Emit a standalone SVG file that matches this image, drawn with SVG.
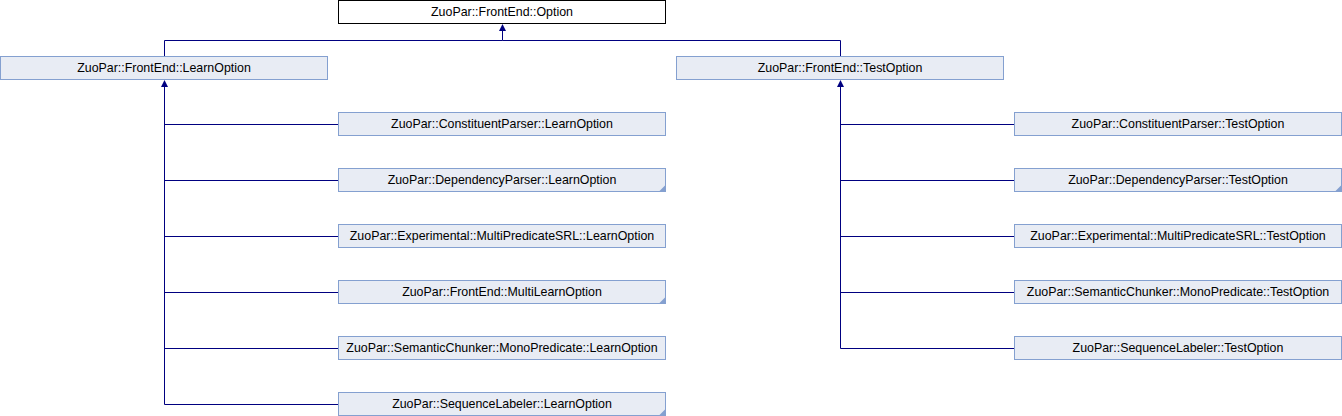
<svg xmlns="http://www.w3.org/2000/svg" width="1342" height="416" viewBox="0 0 1342 416">
<style>
.n rect{fill:#e8ecf4;stroke:#84a0d0;stroke-width:1}
.n text,.r text{font-family:"Liberation Sans",Arial,sans-serif;font-size:12.4px;fill:#000;text-anchor:middle}
.r rect{fill:#fff;stroke:#000;stroke-width:1}
.t{fill:#84a0d0}
#edges path{fill:none;stroke:#000080;stroke-width:1}
#edges polygon{fill:#000080}
</style>
<rect width="1342" height="416" fill="#fff"/>
<g id="edges">
<path d="M502.5 30V40.5H164.5V56M502.5 40.5H840.5V56"/>
<polygon points="502.5,24 499,31 506,31"/>
<path d="M164.5 86V404.5H338.5M164.5 124.5H338.5M164.5 180.5H338.5M164.5 236.5H338.5M164.5 292.5H338.5M164.5 348.5H338.5"/>
<polygon points="164.5,80 161,87 168,87"/>
<path d="M840.5 86V348.5H1014.5M840.5 124.5H1014.5M840.5 180.5H1014.5M840.5 236.5H1014.5M840.5 292.5H1014.5"/>
<polygon points="840.5,80 837,87 844,87"/>
</g>
<g id="option" class="r"><rect x="338.5" y="0.5" width="327" height="23"/><text x="502" y="15.5">ZuoPar::FrontEnd::Option</text></g>
<g id="learnoption" class="n"><rect x="0.5" y="56.5" width="327" height="23"/><text x="164" y="71.5">ZuoPar::FrontEnd::LearnOption</text></g>
<g id="testoption" class="n"><rect x="676.5" y="56.5" width="327" height="23"/><text x="840" y="71.5">ZuoPar::FrontEnd::TestOption</text></g>
<g id="cp_learn" class="n"><rect x="338.5" y="112.5" width="327" height="23"/><text x="502" y="127.5">ZuoPar::ConstituentParser::LearnOption</text></g>
<g id="dp_learn" class="n"><rect x="338.5" y="168.5" width="327" height="23"/><polygon class="t" points="665.5,185 665.5,191.5 659,191.5"/><text x="502" y="183.5">ZuoPar::DependencyParser::LearnOption</text></g>
<g id="mp_learn" class="n"><rect x="338.5" y="224.5" width="327" height="23"/><text x="502" y="239.5">ZuoPar::Experimental::MultiPredicateSRL::LearnOption</text></g>
<g id="multilearn" class="n"><rect x="338.5" y="280.5" width="327" height="23"/><polygon class="t" points="665.5,297 665.5,303.5 659,303.5"/><text x="502" y="295.5">ZuoPar::FrontEnd::MultiLearnOption</text></g>
<g id="sc_learn" class="n"><rect x="338.5" y="336.5" width="327" height="23"/><text x="502" y="351.5">ZuoPar::SemanticChunker::MonoPredicate::LearnOption</text></g>
<g id="sl_learn" class="n"><rect x="338.5" y="392.5" width="327" height="23"/><polygon class="t" points="665.5,409 665.5,415.5 659,415.5"/><text x="502" y="407.5">ZuoPar::SequenceLabeler::LearnOption</text></g>
<g id="cp_test" class="n"><rect x="1014.5" y="112.5" width="327" height="23"/><text x="1178" y="127.5">ZuoPar::ConstituentParser::TestOption</text></g>
<g id="dp_test" class="n"><rect x="1014.5" y="168.5" width="327" height="23"/><polygon class="t" points="1341.5,185 1341.5,191.5 1335,191.5"/><text x="1178" y="183.5">ZuoPar::DependencyParser::TestOption</text></g>
<g id="mp_test" class="n"><rect x="1014.5" y="224.5" width="327" height="23"/><text x="1178" y="239.5">ZuoPar::Experimental::MultiPredicateSRL::TestOption</text></g>
<g id="sc_test" class="n"><rect x="1014.5" y="280.5" width="327" height="23"/><text x="1178" y="295.5">ZuoPar::SemanticChunker::MonoPredicate::TestOption</text></g>
<g id="sl_test" class="n"><rect x="1014.5" y="336.5" width="327" height="23"/><text x="1178" y="351.5">ZuoPar::SequenceLabeler::TestOption</text></g>
</svg>
